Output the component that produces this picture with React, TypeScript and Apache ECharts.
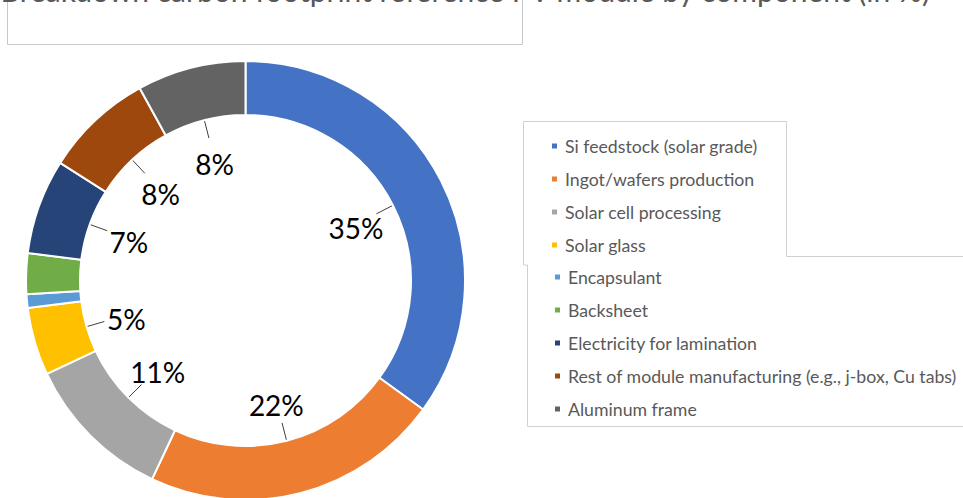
import React, { useEffect, useRef } from "react";
import * as echarts from "echarts";

const TITLE = "Breakdown carbon footprint reference PV module by component (in %)";
const categories = [
  "Si feedstock (solar grade)",
  "Ingot/wafers production",
  "Solar cell processing",
  "Solar glass",
  "Encapsulant",
  "Backsheet",
  "Electricity for lamination",
  "Rest of module manufacturing (e.g., j-box, Cu tabs)",
  "Aluminum frame",
];
const values = [35, 22, 11, 5, 1, 3, 7, 8, 8];
const showLabel = [true, true, true, true, false, false, true, true, true];
const colors = ["#4472C4", "#ED7D31", "#A5A5A5", "#FFC000", "#5B9BD5", "#70AD47", "#264478", "#9E480E", "#636363"];

const CX = 245.5;
const CY = 280.5;
const R_IN = 165.5;
const R_OUT = 219.5;
const LABEL_R = 124;
const LABEL_DY = 4;
const LINE_OUT = 180;
const LINE_IN = 147;
const FONT = "Lato, 'Noto Sans', sans-serif";

export default function App() {
  const ref = useRef<HTMLDivElement>(null);
  useEffect(() => {
    if (!ref.current) return;
    const chart = echarts.init(ref.current, null, { renderer: "svg" });
    const total = values.reduce((a, b) => a + b, 0);
    const mids: number[] = [];
    let acc = 0;
    values.forEach((v) => {
      mids.push(((acc + v / 2) / total) * Math.PI * 2);
      acc += v;
    });
    const legendTextStyle = { color: "#595959", fontSize: 17.7, fontFamily: FONT, lineHeight: 20, padding: [0, 0, 0, 2] };
    chart.setOption({
      animation: false,
      backgroundColor: "#ffffff",
      color: colors,
      graphic: [
        { type: "rect", z: 0, shape: { x: 7.5, y: -5, width: 515, height: 49.5 }, style: { fill: "#fff", stroke: "#c8c8c8", lineWidth: 1 } },
        {
          type: "text", z: 10, x: 930, y: -10,
          style: { text: TITLE, fill: "#595959", font: `30px ${FONT}`, textAlign: "right", textVerticalAlign: "middle" },
        },
        { type: "polyline", z: 0, shape: { points: [[523.5, 265], [523.5, 121.5], [786.5, 121.5], [786.5, 256.5], [963, 256.5]] }, style: { stroke: "#d0d0d0", lineWidth: 1, fill: null } },
        { type: "polyline", z: 0, shape: { points: [[523.5, 265], [527.5, 265], [527.5, 426.5], [963, 426.5]] }, style: { stroke: "#d0d0d0", lineWidth: 1, fill: null } },
      ],
      legend: [
        {
          data: categories.slice(0, 4), orient: "vertical", left: 545, top: 131, itemGap: 13,
          icon: "rect", itemWidth: 7, itemHeight: 7, textStyle: legendTextStyle, selectedMode: false,
        },
        {
          data: categories.slice(4), orient: "vertical", left: 548, top: 262, itemGap: 13,
          icon: "rect", itemWidth: 7, itemHeight: 7, textStyle: legendTextStyle, selectedMode: false,
        },
      ],
      series: [
        {
          type: "pie",
          center: [CX, CY],
          radius: [R_IN, R_OUT],
          startAngle: 90,
          clockwise: true,
          avoidLabelOverlap: false,
          itemStyle: { borderColor: "#ffffff", borderWidth: 2 },
          emphasis: { disabled: true },
          label: {
            position: "outside",
            formatter: (p: any) => p.value + "%",
            color: "#000",
            fontSize: 28,
            fontFamily: FONT,
          },
          labelLine: { show: true, lineStyle: { color: "#404040", width: 1 } },
          labelLayout: (p: any) => {
            const a = mids[p.dataIndex];
            const sx = Math.sin(a);
            const sy = -Math.cos(a);
            const p1 = [CX + sx * LINE_OUT, CY + sy * LINE_OUT];
            const p2 = [CX + sx * LINE_IN, CY + sy * LINE_IN];
            return {
              x: CX + sx * LABEL_R,
              y: CY + sy * LABEL_R + LABEL_DY,
              align: "center",
              verticalAlign: "middle",
              labelLinePoints: [p1, p2, p2],
            };
          },
          data: categories.map((name, i) => ({
            name,
            value: values[i],
            label: { show: showLabel[i] },
            labelLine: { show: showLabel[i] },
          })),
        },
      ],
    });
    return () => chart.dispose();
  }, []);
  return <div ref={ref} style={{ position: "absolute", left: 0, top: 0, width: 963, height: 498 }} />;
}
